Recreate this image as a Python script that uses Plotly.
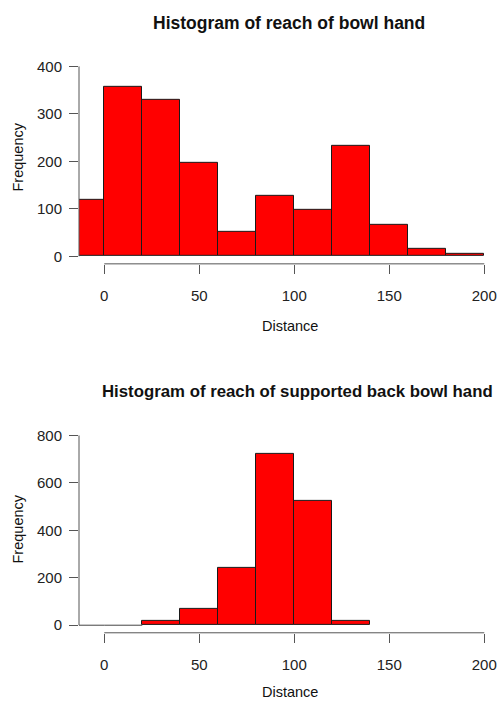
import plotly.graph_objects as go

# Data
bins_bowl = [-20, 0, 20, 40, 60, 80, 100, 120, 140, 160, 180]
counts_bowl = [118, 356, 330, 197, 52, 128, 97, 232, 67, 15, 5]
bins_back = [-20, 0, 20, 40, 60, 80, 100, 120]
counts_back = [0, 0, 17, 70, 242, 723, 523, 20]
bin_width = 20
x_ticks = [0, 50, 100, 150, 200]
y_ticks_top = [0, 100, 200, 300, 400]
y_ticks_bot = [0, 200, 400, 600, 800]
title_top = "Histogram of reach of bowl hand"
title_bot = "Histogram of reach of supported back bowl hand"

W, H = 497, 702
FONT = "Liberation Sans, Arial, Helvetica, sans-serif"

fig = go.Figure()
for i, (bins, counts) in enumerate([(bins_bowl, counts_bowl), (bins_back, counts_back)]):
    xa = "x" if i == 0 else "x2"
    ya = "y" if i == 0 else "y2"
    centers = [b + bin_width / 2 for b in bins]
    nz_x = [c for c, v in zip(centers, counts) if v > 0]
    nz_y = [v for v in counts if v > 0]
    fig.add_trace(go.Bar(
        x=nz_x, y=nz_y, width=bin_width, xaxis=xa, yaxis=ya,
        marker=dict(color="#ff0000", line=dict(color="#1a1a1a", width=1)),
        showlegend=False, hoverinfo="x+y"))
    # zero-count bins drawn as flat rectangles (lines at 0), as R does
    zx = [c for c, v in zip(centers, counts) if v == 0]
    if zx:
        xs, ys = [], []
        for c in zx:
            xs += [c - bin_width / 2, c + bin_width / 2, None]
            ys += [0, 0, None]
        fig.add_trace(go.Scatter(x=xs, y=ys, mode="lines", xaxis=xa, yaxis=ya,
                                 line=dict(color="#444444", width=1),
                                 showlegend=False, hoverinfo="skip"))

# geometry (pixels)
x_left_px = 79
px_per_unit_x = 1.9
x0 = -13.3
x1 = x0 + (W - x_left_px) / px_per_unit_x

axis_common = dict(showgrid=False, zeroline=False, showline=False,
                   ticks="outside", ticklen=9, tickwidth=1, tickcolor="#555555",
                   tickfont=dict(family=FONT, size=15, color="#222222"))

fig.update_layout(
    width=W, height=H, margin=dict(l=0, r=0, t=0, b=0),
    paper_bgcolor="white", plot_bgcolor="white", bargap=0,
    xaxis=dict(domain=[x_left_px / W, 1], range=[x0, x1], anchor="y",
               tickvals=x_ticks, ticklabelstandoff=9, **axis_common),
    yaxis=dict(domain=[1 - 263.6 / H, 1 - 58 / H], range=[-16, 416], anchor="x",
               tickvals=y_ticks_top, ticklabelstandoff=4, **axis_common),
    xaxis2=dict(domain=[x_left_px / W, 1], range=[x0, x1], anchor="y2",
                tickvals=x_ticks, ticklabelstandoff=9, **axis_common),
    yaxis2=dict(domain=[1 - 633.6 / H, 1 - 428.1 / H], range=[-32, 832], anchor="x2",
                tickvals=y_ticks_bot, ticklabelstandoff=4, **axis_common),
)

# R-style axis lines spanning only the tick range
for xa, ya, yt in [("x", "y", y_ticks_top), ("x2", "y2", y_ticks_bot)]:
    fig.add_shape(type="line", xref=xa, yref=ya + " domain",
                  x0=x_ticks[0], x1=x_ticks[-1], y0=0, y1=0,
                  line=dict(color="#555555", width=1))
    fig.add_shape(type="line", xref=xa + " domain", yref=ya,
                  x0=0, x1=0, y0=yt[0], y1=yt[-1],
                  line=dict(color="#555555", width=1))

def ann(text, xpx, ypx, size, bold=False, angle=0, xanchor="center"):
    fig.add_annotation(text=("<b>%s</b>" % text) if bold else text,
                       xref="paper", yref="paper", x=xpx / W, y=1 - ypx / H,
                       showarrow=False, textangle=angle,
                       xanchor=xanchor, yanchor="middle",
                       font=dict(family=FONT, size=size, color="#111111"))

ann(title_top, 289, 22, 17.5, bold=True)
ann(title_bot, 495, 392, 16.8, bold=True, xanchor="right")
ann("Distance", 289.5, 326, 14.5)
ann("Distance", 289.5, 693, 14.5)
ann("Frequency", 18, 157, 14.5, angle=-90)
ann("Frequency", 18, 530, 14.5, angle=-90)

fig.write_html("out.html", config={"displayModeBar": False},
               post_script="document.body.style.margin='0';document.body.style.overflow='hidden';")
